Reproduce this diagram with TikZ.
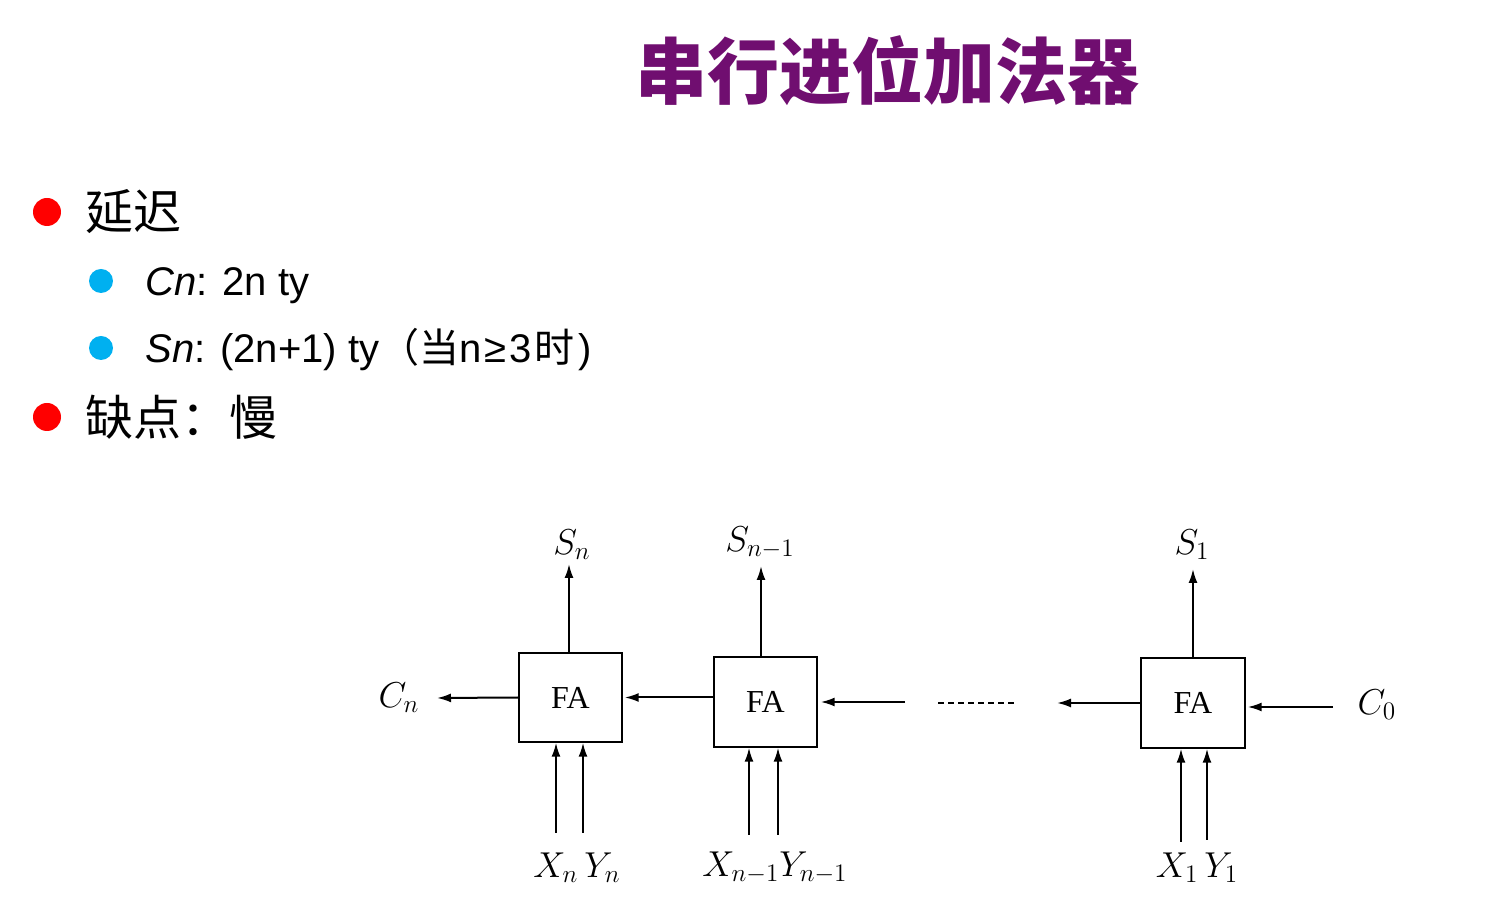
\documentclass[tikz,border=0pt]{standalone}
\usepackage{fix-cm}
\usepackage{fontspec}
\setmainfont{Liberation Sans}
\newfontfamily\cjk{Noto Sans CJK SC}
\newfontfamily\serifA{Liberation Serif}
\usetikzlibrary{arrows.meta}
\definecolor{titlepurple}{RGB}{112,14,112}
\definecolor{bulletred}{RGB}{255,0,0}
\definecolor{bulletblue}{RGB}{0,176,240}
\tikzset{
  arr/.style={line width=1pt,-{Latex[length=7pt,width=4.5pt]}},
  fabox/.style={draw,line width=0.7pt,minimum width=51.5pt,minimum height=44.5pt,inner sep=0pt,font=\serifA\fontsize{16}{18}\selectfont},
  lab/.style={font=\fontsize{18}{20}\selectfont,inner sep=0pt},
  cjktext/.style={font=\cjk\fontsize{24}{27}\selectfont,anchor=west,inner sep=0pt},
  subtext/.style={font=\fontsize{20}{24}\selectfont,anchor=base west,inner sep=0pt},
}
\begin{document}
\begin{tikzpicture}[x=0.5pt,y=-0.5pt]
\useasboundingbox (0,0) rectangle (1506,924);
% title
\node[font=\cjk\bfseries\fontsize{36}{40}\selectfont,text=titlepurple,inner sep=0pt] (title) at (887,71) {串行进位加法器};
% bullets
\fill[bulletred] (47,212) circle (14);
\node[cjktext] (t1) at (85,212) {延迟};
\fill[bulletblue] (101,281) circle (12);
\node[subtext] (t2) at (145,296) {\textit{Cn}: 2n ty};
\fill[bulletblue] (101,348) circle (12);
\node[subtext] (t3) at (145,363) {\textit{Sn}: (2n+1) ty{\cjk （当}n\hspace{1.5pt}≥\hspace{1.5pt}3\hspace{1.5pt}{\cjk 时}\hspace{2pt})};
\fill[bulletred] (47,417) circle (14);
\node[cjktext] (t4) at (85,417) {缺点：慢};
% FA boxes
\node[fabox] (b1) at (570.5,697.5) {FA};
\node[fabox,minimum height=45pt] (b2) at (765.5,702) {FA};
\node[fabox,minimum width=52pt,minimum height=45pt] (b3) at (1193,703) {FA};
% labels
\node[lab] (Sn) at (572,545) {$S_n$};
\node[lab] (Sn1) at (760,543) {$S_{n-1}$};
\node[lab] (S1) at (1192,545) {$S_1$};
\node[lab] (Cn) at (399,698) {$C_n$};
\node[lab] (C0) at (1377,705) {$C_0$};
\node[lab] (XYn) at (577,868) {$X_n\,Y_n$};
\node[lab] (XYn1) at (775,868) {$X_{n-1}Y_{n-1}$};
\node[lab] (XY1) at (1197,868) {$X_1\,Y_1$};
% coordinates
\coordinate (s1t) at (569,564);
\coordinate (s2t) at (761,566);
\coordinate (s3t) at (1193,569);
\coordinate (cnt) at (437,698);
\coordinate (b2in) at (905,702);
\coordinate (b3out) at (1057,703);
\coordinate (c0s) at (1333,707);
\coordinate (x1s) at (556,833);
\coordinate (y1s) at (583,833);
\coordinate (x2s) at (749,835);
\coordinate (y2s) at (778,835);
\coordinate (x3s) at (1181,842);
\coordinate (y3s) at (1207,840);
\coordinate (d1) at (938,703);
\coordinate (d2) at (1015,703);
% sum outputs
\draw[arr] (s1t |- b1.north) -- (s1t);
\draw[arr] (s2t |- b2.north) -- (s2t);
\draw[arr] (s3t |- b3.north) -- (s3t);
% carries
\draw[arr] (b1.west) -- (cnt);
\draw[arr] (b2.west |- b1.east) -- ([xshift=1pt]b1.east);
\draw[arr] (b2in) -- ([xshift=1.5pt]b2.east);
\draw[arr] (b3.west) -- (b3out);
\draw[arr] (c0s) -- ([xshift=1pt]b3.east |- c0s);
\draw[line width=0.6pt,dash pattern=on 3pt off 2pt] (d1) -- (d2);
% inputs
\draw[arr] (x1s) -- (x1s |- b1.south);
\draw[arr] (y1s) -- (y1s |- b1.south);
\draw[arr] (x2s) -- (x2s |- b2.south);
\draw[arr] (y2s) -- (y2s |- b2.south);
\draw[arr] (x3s) -- (x3s |- b3.south);
\draw[arr] (y3s) -- (y3s |- b3.south);
\end{tikzpicture}
\end{document}
